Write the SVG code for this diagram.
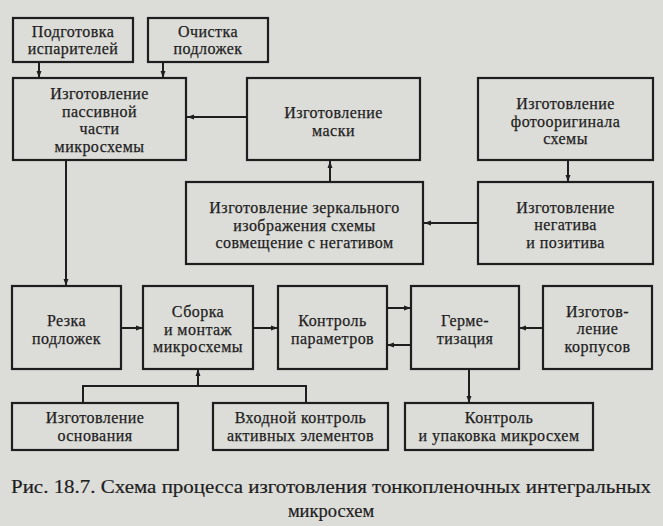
<svg xmlns="http://www.w3.org/2000/svg" width="663" height="526" viewBox="0 0 663 526">
<style>
.bg{fill:#dcdcd8}
.box{fill:#dcdcd8;stroke:#1e1e1e;stroke-width:2.2}
.t{font-family:'Liberation Serif','DejaVu Serif',serif;font-size:16px;letter-spacing:0.45px;fill:#1e1e1e;stroke:#1e1e1e;stroke-width:0.25;text-anchor:middle}
.cap{font-family:'Liberation Serif','DejaVu Serif',serif;font-size:18.5px;fill:#1e1e1e;stroke:#1e1e1e;stroke-width:0.2;text-anchor:middle}
.ln{fill:none;stroke:#1e1e1e;stroke-width:2}
</style>
<defs>
<marker id="ah" viewBox="0 0 10 10" refX="10" refY="5" markerWidth="7" markerHeight="7" markerUnits="userSpaceOnUse" orient="auto">
<path d="M0,1.5 L10,5 L0,8.5 Z" fill="#1e1e1e"/>
</marker>
</defs>
<rect class="bg" x="0" y="0" width="663" height="526"/>

<g id="connectors">
<path class="ln" d="M39,62 V78" marker-end="url(#ah)"/>
<path class="ln" d="M163,62 V78" marker-end="url(#ah)"/>
<path class="ln" d="M247,117 H187" marker-end="url(#ah)"/>
<path class="ln" d="M330,182 V161" marker-end="url(#ah)"/>
<path class="ln" d="M568,160 V182" marker-end="url(#ah)"/>
<path class="ln" d="M478,223 H424" marker-end="url(#ah)"/>
<path class="ln" d="M66,160 V286" marker-end="url(#ah)"/>
<path class="ln" d="M121,328 H143" marker-end="url(#ah)"/>
<path class="ln" d="M253,328 H278" marker-end="url(#ah)"/>
<path class="ln" d="M387,308 H411" marker-end="url(#ah)"/>
<path class="ln" d="M411,345 H387" marker-end="url(#ah)"/>
<path class="ln" d="M543,328 H519" marker-end="url(#ah)"/>
<path class="ln" d="M469,369 V403" marker-end="url(#ah)"/>
<path class="ln" d="M83,403 V386 H306 V403"/>
<path class="ln" d="M198,386 V369" marker-end="url(#ah)"/>
</g>

<g id="n-isp">
<rect class="box" x="13" y="18" width="120" height="44"/>
<text class="t" x="73" y="36.5">Подготовка</text>
<text class="t" x="73" y="54">испарителей</text>
</g>
<g id="n-ochistka">
<rect class="box" x="148" y="18" width="120" height="44"/>
<text class="t" x="208" y="36.5">Очистка</text>
<text class="t" x="208" y="54">подложек</text>
</g>
<g id="n-passive">
<rect class="box" x="13" y="78" width="173" height="82"/>
<text class="t" x="99.5" y="99">Изготовление</text>
<text class="t" x="99.5" y="116.5">пассивной</text>
<text class="t" x="99.5" y="134">части</text>
<text class="t" x="99.5" y="151.5">микросхемы</text>
</g>
<g id="n-mask">
<rect class="box" x="247" y="78" width="173" height="82"/>
<text class="t" x="333.5" y="118">Изготовление</text>
<text class="t" x="333.5" y="135.5">маски</text>
</g>
<g id="n-photo">
<rect class="box" x="478" y="78" width="175" height="82"/>
<text class="t" x="565.5" y="109">Изготовление</text>
<text class="t" x="565.5" y="126.5">фотооригинала</text>
<text class="t" x="565.5" y="144">схемы</text>
</g>
<g id="n-mirror">
<rect class="box" x="186" y="182" width="237" height="82"/>
<text class="t" x="304.5" y="213">Изготовление зеркального</text>
<text class="t" x="304.5" y="230.5">изображения схемы</text>
<text class="t" x="304.5" y="248">совмещение с негативом</text>
</g>
<g id="n-negative">
<rect class="box" x="478" y="182" width="175" height="82"/>
<text class="t" x="565.5" y="212.5">Изготовление</text>
<text class="t" x="565.5" y="230">негатива</text>
<text class="t" x="565.5" y="247.5">и позитива</text>
</g>
<g id="n-cut">
<rect class="box" x="12" y="286" width="109" height="83"/>
<text class="t" x="66.5" y="326">Резка</text>
<text class="t" x="66.5" y="343.5">подложек</text>
</g>
<g id="n-assembly">
<rect class="box" x="143" y="286" width="110" height="83"/>
<text class="t" x="198" y="317">Сборка</text>
<text class="t" x="198" y="334.5">и монтаж</text>
<text class="t" x="198" y="352">микросхемы</text>
</g>
<g id="n-control">
<rect class="box" x="278" y="286" width="109" height="83"/>
<text class="t" x="332.5" y="326">Контроль</text>
<text class="t" x="332.5" y="343.5">параметров</text>
</g>
<g id="n-seal">
<rect class="box" x="411" y="286" width="108" height="83"/>
<text class="t" x="465" y="326">Герме-</text>
<text class="t" x="465" y="343.5">тизация</text>
</g>
<g id="n-case">
<rect class="box" x="543" y="286" width="109" height="83"/>
<text class="t" x="597.5" y="316.5">Изготов-</text>
<text class="t" x="597.5" y="334">ление</text>
<text class="t" x="597.5" y="351.5">корпусов</text>
</g>
<g id="n-base">
<rect class="box" x="12" y="403" width="166" height="47"/>
<text class="t" x="95" y="423">Изготовление</text>
<text class="t" x="95" y="441">основания</text>
</g>
<g id="n-input">
<rect class="box" x="213" y="403" width="175" height="47"/>
<text class="t" x="300.5" y="423">Входной контроль</text>
<text class="t" x="300.5" y="441">активных элементов</text>
</g>
<g id="n-pack">
<rect class="box" x="405" y="403" width="188" height="47"/>
<text class="t" x="499" y="423">Контроль</text>
<text class="t" x="499" y="441">и упаковка микросхем</text>
</g>

<g id="caption">
<text class="cap" x="331" y="493" textLength="640" lengthAdjust="spacingAndGlyphs">Рис. 18.7. Схема процесса изготовления тонкопленочных интегральных</text>
<text class="cap" x="331" y="517">микросхем</text>
</g>
</svg>
